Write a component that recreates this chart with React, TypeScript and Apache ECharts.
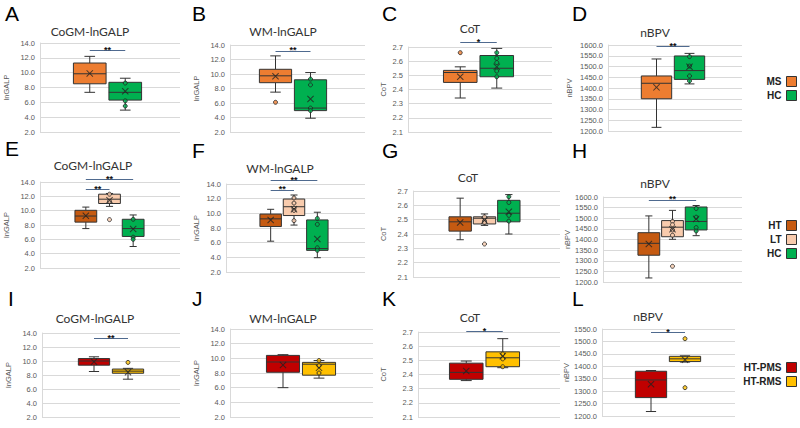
import React, { useEffect, useRef } from "react";
import * as echarts from "echarts";

// ---------------- data ----------------
const panelLetters = ["A", "B", "C", "D", "E", "F", "G", "H", "I", "J", "K", "L"];
const metricTitles = ["CoGM-lnGALP", "WM-lnGALP", "CoT", "nBPV"];
const metricAxisNames = ["lnGALP", "lnGALP", "CoT", "nBPV"];

const groupsMS = ["MS", "HC"];
const groupsLT = ["HT", "LT", "HC"];
const groupsPMS = ["HT-PMS", "HT-RMS"];

const groupColors: Record<string, string> = {
  MS: "#ED7D31",
  HC: "#00B050",
  HT: "#C55A11",
  LT: "#F8CBAD",
  "HT-PMS": "#C00000",
  "HT-RMS": "#FFC000",
};

// y axis ranges [min, max, interval]
const rangeGALP = [2, 14, 2];
const rangeCoT = [2.1, 2.7, 0.1];
const rangeBPV = [1200, 1600, 50];
const rangeBPV2 = [1200, 1550, 50];

// box stats: [min, Q1, median, Q3, max]
const boxA = [[7.35, 8.5, 9.85, 11.3, 12.2], [4.95, 6.3, 7.35, 8.7, 9.25]];
const meanA = [9.9, 7.5];
const ptsA = [[], [8.6, 6.2, 5.5]];
const sigA = [[0, 1, 13.0, "**"]];

const boxB = [[7.5, 8.8, 9.75, 10.65, 12.5], [3.9, 4.95, 5.3, 9.2, 10.2]];
const meanB = [9.7, 6.55];
const ptsB = [[6.1], [9.3, 8.5, 5.3, 4.95]];
const sigB = [[0, 1, 13.2, "**"]];

const boxC = [[2.34, 2.45, 2.52, 2.535, 2.56], [2.41, 2.49, 2.55, 2.64, 2.69]];
const meanC = [2.49, 2.56];
const ptsC = [[2.66], [2.66, 2.62, 2.59, 2.53, 2.49]];
const sigC = [[0, 1, 2.735, "*"]];

const boxD = [[1217, 1350, 1422, 1456, 1535], [1419, 1440, 1481, 1549, 1561]];
const meanD = [1403, 1499];
const ptsD = [[], [1546, 1502, 1456, 1433]];
const sigD = [[0, 1, 1592, "**"]];

const boxE = [[7.5, 8.4, 9.25, 10.05, 10.5], [10.6, 11.0, 11.6, 12.3, 12.4], [5.0, 6.4, 7.5, 8.8, 9.4]];
const meanE = [9.3, 11.45, 7.45];
const ptsE = [[], [8.75, 12.3, 11.3], [8.8, 6.3, 6.0]];
const sigE = [[0, 1, 13.0, "**"], [0, 2, 14.38, "**"]];

const boxF = [[6.2, 8.2, 9.25, 9.9, 10.55], [8.4, 9.7, 10.9, 11.95, 12.5], [3.95, 4.95, 5.2, 9.1, 10.15]];
const meanF = [9.1, 10.55, 6.5];
const ptsF = [[], [12.1, 11.4, 10.7, 10.4, 9.0], [9.3, 8.5, 5.3, 4.95]];
const sigF = [[0, 1, 13.2, "**"], [0, 2, 14.45, "**"]];

const boxG = [[2.36, 2.42, 2.485, 2.52, 2.65], [2.46, 2.47, 2.51, 2.52, 2.54], [2.4, 2.485, 2.545, 2.635, 2.675]];
const meanG = [2.48, 2.495, 2.555];
const ptsG = [[], [2.33, 2.52, 2.49, 2.48], [2.66, 2.62, 2.53, 2.49]];
const sigG: any[] = [];

const boxH = [[1219, 1326, 1382, 1432, 1511], [1401, 1413, 1458, 1489, 1537], [1418, 1445, 1485, 1553, 1560]];
const meanH = [1379, 1448, 1497];
const ptsH = [[], [1274, 1485, 1470, 1445, 1420], [1546, 1505, 1456, 1440]];
const sigH = [[0, 2, 1587, "**"]];

const boxI = [[8.5, 9.4, 10.0, 10.35, 10.6], [7.4, 8.25, 8.55, 8.85, 8.95]];
const meanI = [9.9, 8.4];
const ptsI = [[], [9.8]];
const sigI = [[0, 1, 13.24, "**"]];

const boxJ = [[6.0, 8.1, 9.5, 10.4, 10.5], [7.3, 7.7, 9.2, 9.45, 9.7]];
const meanJ = [9.1, 8.7];
const ptsJ = [[], [9.7, 9.0, 8.0]];
const sigJ: any[] = [];

const boxK = [[2.357, 2.366, 2.415, 2.48, 2.495], [2.448, 2.455, 2.518, 2.56, 2.653]];
const meanK = [2.425, 2.53];
const ptsK = [[], [2.545, 2.51, 2.455]];
const sigK = [[0, 1, 2.705, "*"]];

const boxL = [[1218, 1274, 1345, 1380, 1383], [1417, 1419, 1430, 1440, 1442]];
const meanL = [1328, 1426];
const ptsL = [[], [1511, 1314]];
const sigL = [[0, 1, 1537, "*"]];

// ---------------- layout (pixels) ----------------
// background plot: [left, top, right, bottom]
const plotRects = [
  [40, 43, 180, 132], [230, 45, 365, 132], [408, 47, 552, 132], [608, 45, 742, 131],
  [40, 182, 180, 268], [226, 184, 365, 272], [413, 191, 560, 277], [603, 197, 742, 282],
  [42, 333, 180, 417], [230, 329, 373, 417], [418, 332, 560, 417], [602, 329, 735, 416],
];
// horizontal span of boxes: [left, right]
const boxSpans = [
  [72, 143], [258, 328], [442, 515], [640, 706],
  [74, 145], [259, 329], [448, 521], [637, 708],
  [77, 145], [265, 337], [448, 521], [634, 702],
];
const nameGaps = [30, 30, 21, 35, 30, 26, 26, 31, 30, 30, 31, 30];
const letterPos = [
  [5, 3], [192, 3], [382, 3], [572, 3],
  [5, 138], [192, 140], [382, 140], [572, 140],
  [8, 288], [192, 288], [382, 288], [572, 288],
];
const titlePos = [
  [90, 31], [283, 31], [470, 28], [655, 32],
  [93, 165], [280, 168], [468, 177], [655, 183],
  [95, 318], [283, 318], [470, 317], [648, 316],
];
const legendTops = [76, 220, 362];

const X_SYMBOL = "path://M1,0L5,4L9,0L10,1L6,5L10,9L9,10L5,6L1,10L0,9L4,5L0,1Z";
const STROKE = "#333333";

function renderBox(params: any, api: any) {
  const xi = api.value(0);
  const pMin = api.coord([xi, api.value(1)]);
  const pQ1 = api.coord([xi, api.value(2)]);
  const pMed = api.coord([xi, api.value(3)]);
  const pQ3 = api.coord([xi, api.value(4)]);
  const pMax = api.coord([xi, api.value(5)]);
  const band = api.size([1, 0])[0];
  const w = band * 0.92;
  const cap = band * 0.3;
  const cx = pMin[0];
  const ls = { stroke: STROKE, lineWidth: 1 };
  return {
    type: "group",
    children: [
      { type: "line", shape: { x1: cx, y1: pMax[1], x2: cx, y2: pQ3[1] }, style: ls },
      { type: "line", shape: { x1: cx, y1: pQ1[1], x2: cx, y2: pMin[1] }, style: ls },
      { type: "line", shape: { x1: cx - cap / 2, y1: pMax[1], x2: cx + cap / 2, y2: pMax[1] }, style: ls },
      { type: "line", shape: { x1: cx - cap / 2, y1: pMin[1], x2: cx + cap / 2, y2: pMin[1] }, style: ls },
      {
        type: "rect",
        shape: { x: cx - w / 2, y: pQ3[1], width: w, height: pQ1[1] - pQ3[1] },
        style: { fill: api.visual("color"), stroke: STROKE, lineWidth: 1 },
      },
      { type: "line", shape: { x1: cx - w / 2, y1: pMed[1], x2: cx + w / 2, y2: pMed[1] }, style: ls },
    ],
  };
}

function buildOption() {
  const panels = [
    { box: boxA, mean: meanA, pts: ptsA, sig: sigA, groups: groupsMS, range: rangeGALP },
    { box: boxB, mean: meanB, pts: ptsB, sig: sigB, groups: groupsMS, range: rangeGALP },
    { box: boxC, mean: meanC, pts: ptsC, sig: sigC, groups: groupsMS, range: rangeCoT },
    { box: boxD, mean: meanD, pts: ptsD, sig: sigD, groups: groupsMS, range: rangeBPV },
    { box: boxE, mean: meanE, pts: ptsE, sig: sigE, groups: groupsLT, range: rangeGALP },
    { box: boxF, mean: meanF, pts: ptsF, sig: sigF, groups: groupsLT, range: rangeGALP },
    { box: boxG, mean: meanG, pts: ptsG, sig: sigG, groups: groupsLT, range: rangeCoT },
    { box: boxH, mean: meanH, pts: ptsH, sig: sigH, groups: groupsLT, range: rangeBPV },
    { box: boxI, mean: meanI, pts: ptsI, sig: sigI, groups: groupsPMS, range: rangeGALP },
    { box: boxJ, mean: meanJ, pts: ptsJ, sig: sigJ, groups: groupsPMS, range: rangeGALP },
    { box: boxK, mean: meanK, pts: ptsK, sig: sigK, groups: groupsPMS, range: rangeCoT },
    { box: boxL, mean: meanL, pts: ptsL, sig: sigL, groups: groupsPMS, range: rangeBPV2 },
  ];
  const grid: any[] = [];
  const xAxis: any[] = [];
  const yAxis: any[] = [];
  const series: any[] = [];
  const graphic: any[] = [];
  const EXT = 0.25;

  panels.forEach((p, i) => {
    const [l, t, r, b] = plotRects[i];
    const h = b - t;
    const [min, max, interval] = p.range;
    const bi = 2 * i;
    const ci = 2 * i + 1;
    grid.push({ left: l, top: t, width: r - l, height: h });
    grid.push({ left: boxSpans[i][0], top: t - EXT * h, width: boxSpans[i][1] - boxSpans[i][0], height: h * (1 + EXT) });
    xAxis.push({ gridIndex: bi, type: "category", data: [""], show: false });
    xAxis.push({ gridIndex: ci, type: "category", data: p.groups, show: false, boundaryGap: true });
    yAxis.push({
      gridIndex: bi,
      type: "value",
      min,
      max,
      interval,
      name: metricAxisNames[i % 4],
      nameLocation: "middle",
      nameGap: nameGaps[i],
      nameTextStyle: { fontSize: 7.5, color: "#595959", fontFamily: "Liberation Sans" },
      axisLine: { show: true, lineStyle: { color: "#d9d9d9" } },
      axisTick: { show: false },
      axisLabel: {
        fontSize: 7.5,
        color: "#595959",
        fontFamily: "Liberation Sans",
        margin: 5,
        formatter: (v: number) => v.toFixed(1),
      },
      splitLine: { show: true, lineStyle: { color: "#d9d9d9", width: 1 } },
    });
    yAxis.push({
      gridIndex: ci,
      type: "value",
      min,
      max: max + EXT * (max - min),
      show: false,
      splitLine: { show: false },
    });

    p.groups.forEach((g, gi) => {
      series.push({
        type: "custom",
        name: g,
        xAxisIndex: ci,
        yAxisIndex: ci,
        itemStyle: { color: groupColors[g] },
        renderItem: renderBox,
        encode: { x: 0, y: [1, 2, 3, 4, 5] },
        data: [[gi, ...p.box[gi]]],
        z: 2,
        silent: true,
      });
    });

    const ptsData: any[] = [];
    p.pts.forEach((arr: number[], gi: number) => {
      arr.forEach((v) =>
        ptsData.push({ value: [gi, v], itemStyle: { color: groupColors[p.groups[gi]] } })
      );
    });
    series.push({
      type: "scatter",
      xAxisIndex: ci,
      yAxisIndex: ci,
      symbol: "circle",
      symbolSize: 4,
      itemStyle: { borderColor: "#222", borderWidth: 1 },
      data: ptsData,
      z: 4,
      silent: true,
    });

    series.push({
      type: "scatter",
      xAxisIndex: ci,
      yAxisIndex: ci,
      symbol: X_SYMBOL,
      symbolSize: 7,
      itemStyle: { color: "#222" },
      data: p.mean.map((m: number, gi: number) => [gi, m]),
      z: 5,
      silent: true,
      markLine: {
        silent: true,
        symbol: ["none", "none"],
        lineStyle: { type: "solid", color: "#4f6a8f", width: 1 },
        label: { show: true, position: "middle", color: "#111", fontSize: 9, fontWeight: "bold", distance: -4 },
        data: p.sig.map((s: any[]) => [
          { coord: [s[0], s[2]], label: { formatter: s[3] } },
          { coord: [s[1], s[2]] },
        ]),
      },
    });

    graphic.push({
      type: "text",
      x: letterPos[i][0],
      y: letterPos[i][1],
      style: { text: panelLetters[i], font: "21px 'Liberation Sans'", fill: "#000" },
    });
    graphic.push({
      type: "text",
      x: titlePos[i][0],
      y: titlePos[i][1],
      style: {
        text: metricTitles[i % 4],
        font: "12px Lato",
        fill: "#333",
        textAlign: "center",
        textVerticalAlign: "middle",
      },
    });
  });

  const legendBase = {
    orient: "vertical",
    align: "right",
    right: 3,
    padding: 0,
    itemWidth: 10,
    itemHeight: 10,
    itemGap: 3,
    icon: "rect",
    selectedMode: false,
    itemStyle: { borderColor: "#333", borderWidth: 1 },
    textStyle: {
      fontSize: 10,
      lineHeight: 10,
      fontWeight: "bold",
      color: "#222",
      fontFamily: "'Liberation Sans Narrow', 'Liberation Sans'",
      padding: [0, 0, 0, 0],
    },
  };

  return {
    animation: false,
    backgroundColor: "#fff",
    grid,
    xAxis,
    yAxis,
    series,
    graphic,
    legend: [
      { ...legendBase, data: groupsMS, top: legendTops[0] },
      { ...legendBase, data: groupsLT, top: legendTops[1] },
      { ...legendBase, data: groupsPMS, top: legendTops[2] },
    ],
  };
}

export default function App() {
  const ref = useRef<HTMLDivElement>(null);
  useEffect(() => {
    document.body.style.margin = "0";
    const chart = echarts.init(ref.current!, null, { renderer: "svg" });
    chart.setOption(buildOption() as any);
    return () => chart.dispose();
  }, []);
  return <div ref={ref} style={{ width: 800, height: 428 }} />;
}
